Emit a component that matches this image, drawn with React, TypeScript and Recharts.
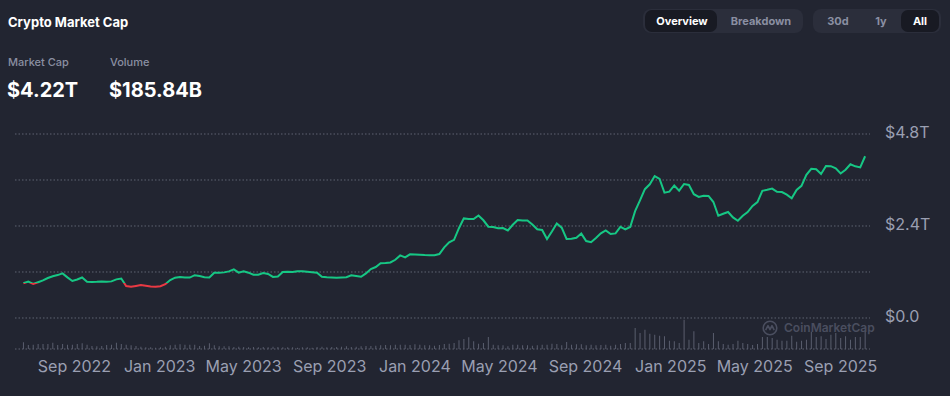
import { ComposedChart, Line, Bar, XAxis, YAxis, CartesianGrid } from "recharts";

// weekly samples, first one on 2022-06-20
const WEEK_START = Date.UTC(2022, 5, 20);
const DAY = 86400000;

// total crypto market cap, trillions USD
const marketCapT = [
  0.905, 0.952, 0.887, 0.934, 0.981, 1.043, 1.09, 1.119, 1.163, 1.059,
  0.965, 1.004, 1.057, 0.947, 0.942, 0.944, 0.955, 0.947, 0.955, 1.007,
  1.03, 0.832, 0.814, 0.837, 0.858, 0.84, 0.822, 0.817, 0.83, 0.882,
  0.991, 1.051, 1.07, 1.057, 1.054, 1.117, 1.093, 1.062, 1.057, 1.179,
  1.182, 1.19, 1.216, 1.27, 1.184, 1.216, 1.182, 1.13, 1.13, 1.171,
  1.148, 1.07, 1.08, 1.2, 1.208, 1.2, 1.221, 1.218, 1.208, 1.195,
  1.179, 1.077, 1.062, 1.057, 1.051, 1.057, 1.064, 1.114, 1.096, 1.075,
  1.163, 1.278, 1.33, 1.427, 1.435, 1.448, 1.518, 1.633, 1.583, 1.662,
  1.657, 1.651, 1.643, 1.638, 1.636, 1.667, 1.842, 1.975, 2.04, 2.343,
  2.598, 2.583, 2.58, 2.674, 2.549, 2.382, 2.374, 2.343, 2.345, 2.283,
  2.431, 2.554, 2.541, 2.544, 2.439, 2.314, 2.298, 2.061, 2.257, 2.463,
  2.358, 2.061, 2.066, 2.092, 2.202, 2.006, 1.977, 2.087, 2.207, 2.283,
  2.191, 2.207, 2.377, 2.311, 2.374, 2.789, 3.07, 3.36, 3.488, 3.702,
  3.626, 3.269, 3.297, 3.457, 3.323, 3.496, 3.47, 3.23, 3.159, 3.19,
  3.183, 3.026, 2.666, 2.718, 2.765, 2.624, 2.538, 2.666, 2.763, 2.922,
  3.024, 3.316, 3.344, 3.376, 3.292, 3.284, 3.219, 3.125, 3.342, 3.449,
  3.736, 3.892, 3.882, 3.757, 3.965, 3.96, 3.905, 3.77, 3.869, 4.01,
  3.957, 3.929, 4.22,
];

// 24h volume, billions USD
const volumeB = [
  93, 56, 60, 70, 70, 70, 88, 56, 70, 60,
  60, 70, 80, 60, 42, 38, 42, 56, 60, 88,
  70, 60, 52, 42, 32, 24, 24, 18, 24, 32,
  52, 60, 66, 60, 60, 60, 42, 46, 80, 52,
  38, 38, 38, 28, 32, 28, 24, 28, 24, 28,
  24, 32, 28, 24, 24, 24, 18, 24, 24, 18,
  28, 32, 24, 28, 28, 32, 38, 28, 32, 38,
  42, 42, 46, 52, 56, 52, 60, 60, 60, 56,
  66, 60, 52, 52, 46, 56, 70, 74, 84, 121,
  140, 163, 107, 74, 84, 167, 60, 52, 52, 38,
  60, 60, 52, 52, 46, 52, 60, 60, 74, 70,
  52, 98, 60, 66, 66, 52, 60, 52, 56, 60,
  46, 60, 70, 84, 84, 293, 223, 269, 213, 199,
  186, 177, 116, 107, 84, 409, 130, 247, 84, 107,
  70, 223, 107, 70, 60, 70, 116, 84, 70, 56,
  70, 167, 167, 153, 130, 116, 116, 186, 102, 116,
  130, 241, 167, 177, 140, 199, 223, 153, 177, 130,
  167, 167, 255,
];

const yTicks = [0, 1.2, 2.4, 3.6, 4.8];
const yTickLabels: Record<string, string> = { "0": "$0.0", "2.4": "$2.4T", "4.8": "$4.8T" };
const xTicks = [
  Date.UTC(2022, 8, 1), Date.UTC(2023, 0, 1), Date.UTC(2023, 4, 1), Date.UTC(2023, 8, 1),
  Date.UTC(2024, 0, 1), Date.UTC(2024, 4, 1), Date.UTC(2024, 8, 1), Date.UTC(2025, 0, 1),
  Date.UTC(2025, 4, 1), Date.UTC(2025, 8, 1),
];
const MONTHS = ["Jan", "Feb", "Mar", "Apr", "May", "Jun", "Jul", "Aug", "Sep", "Oct", "Nov", "Dec"];

const rows = marketCapT.map((cap, i) => ({
  t: WEEK_START + i * 7 * DAY,
  cap,
  vol: volumeB[i],
}));

const UP = "#16c784";
const DOWN = "#ea3943";
const BG = "#222531";
const MUTED = "#9a9fb2";
const FONT = "Inter, 'Noto Sans', sans-serif";

// line turns red where it sits below its first value
const capMax = Math.max(...marketCapT);
const capMin = Math.min(...marketCapT);
const baseOffset = (capMax - marketCapT[0]) / (capMax - capMin);

function Toggle({ left, width, items }: { left: number; width: number; items: { label: string; cx: number; active?: boolean; from?: number; to?: number }[] }) {
  return (
    <div style={{ position: "absolute", left, top: 9, width, height: 24, background: "#2b2e3b", borderRadius: 8 }}>
      {items.map((it) =>
        it.active ? (
          <div
            key={it.label}
            style={{
              position: "absolute",
              left: (it.from ?? 0) - left,
              top: 1,
              width: (it.to ?? 0) - (it.from ?? 0),
              height: 22,
              background: "#181a23",
              borderRadius: 7,
            }}
          />
        ) : null
      )}
      {items.map((it) => (
        <span
          key={it.label + "t"}
          style={{
            position: "absolute",
            left: it.cx - left - 40,
            width: 80,
            top: 0,
            lineHeight: "24px",
            textAlign: "center",
            fontSize: 11,
            fontWeight: 700,
            color: it.active ? "#ffffff" : "#8a8fa2",
          }}
        >
          {it.label}
        </span>
      ))}
    </div>
  );
}

export default function App() {
  return (
    <div style={{ position: "fixed", left: 0, top: 0, width: 950, height: 396, background: BG, fontFamily: FONT, overflow: "hidden" }}>
      <div style={{ position: "absolute", left: 8, top: 12, fontSize: 13, fontWeight: 700, color: "#fff", lineHeight: "20px" }}>
        Crypto Market Cap
      </div>
      <div style={{ position: "absolute", left: 8, top: 55, fontSize: 11, fontWeight: 500, color: "#8a8fa2", lineHeight: "14px" }}>
        Market Cap
      </div>
      <div style={{ position: "absolute", left: 110, top: 55, fontSize: 11, fontWeight: 500, color: "#8a8fa2", lineHeight: "14px" }}>
        Volume
      </div>
      <div style={{ position: "absolute", left: 7, top: 77, fontSize: 20, fontWeight: 700, color: "#fff", lineHeight: "26px" }}>
        $4.22T
      </div>
      <div style={{ position: "absolute", left: 109, top: 77, fontSize: 20, fontWeight: 700, color: "#fff", lineHeight: "26px" }}>
        $185.84B
      </div>

      <Toggle
        left={643}
        width={160}
        items={[
          { label: "Overview", cx: 682, active: true, from: 645, to: 717 },
          { label: "Breakdown", cx: 761 },
        ]}
      />
      <Toggle
        left={813}
        width={128}
        items={[
          { label: "30d", cx: 838 },
          { label: "1y", cx: 881 },
          { label: "All", cx: 920, active: true, from: 901, to: 939 },
        ]}
      />

      <div style={{ position: "absolute", left: 0, top: 0 }}>
        <ComposedChart width={950} height={396} data={rows} margin={{ top: 134, right: 0, bottom: 0, left: 15 }}>
          <defs>
            <linearGradient id="capStroke" x1="0" y1="0" x2="0" y2="1">
              <stop offset={0} stopColor={UP} />
              <stop offset={baseOffset} stopColor={UP} />
              <stop offset={baseOffset} stopColor={DOWN} />
              <stop offset={1} stopColor={DOWN} />
            </linearGradient>
          </defs>
          <CartesianGrid yAxisId="cap" vertical={false} stroke="#5f6372" strokeDasharray="1.5 2" />
          <XAxis
            dataKey="t"
            type="number"
            scale="linear"
            domain={[Date.UTC(2022, 5, 8), Date.UTC(2025, 9, 13)]}
            ticks={xTicks}
            interval={0}
            height={47}
            axisLine={false}
            tickLine={false}
            tickSize={0}
            tickMargin={12}
            tick={{ fill: MUTED, fontSize: 16, fontFamily: FONT }}
            tickFormatter={(v: number) => {
              const d = new Date(v);
              return `${MONTHS[d.getUTCMonth()]} ${d.getUTCFullYear()}`;
            }}
          />
          <YAxis
            yAxisId="cap"
            orientation="right"
            width={80}
            type="number"
            domain={[-0.809, 4.8]}
            allowDataOverflow
            ticks={yTicks}
            interval={0}
            axisLine={false}
            tickLine={false}
            tickSize={0}
            tickMargin={15}
            tick={{ fill: MUTED, fontSize: 16, fontFamily: FONT, dy: -2 }}
            tickFormatter={(v: number) => yTickLabels[String(v)] ?? ""}
          />
          <YAxis yAxisId="vol" hide domain={[0, 3000]} allowDataOverflow />
          <Bar yAxisId="vol" dataKey="vol" fill="#5a5e6e" barSize={1} isAnimationActive={false} />
          <Line
            yAxisId="cap"
            type="linear"
            dataKey="cap"
            stroke="url(#capStroke)"
            strokeWidth={2}
            dot={false}
            activeDot={false}
            isAnimationActive={false}
          />
        </ComposedChart>
      </div>

      <div style={{ position: "absolute", left: 762, top: 320, display: "flex", alignItems: "center", gap: 6, color: "#4a4e5f" }}>
        <svg width={16} height={16} viewBox="0 0 16 16">
          <circle cx={8} cy={8} r={6.8} fill="none" stroke="#4a4e5f" strokeWidth={1.6} />
          <polyline points="3.6,10.2 6,5.6 8,9.6 10,5.6 12.2,10.2" fill="none" stroke="#4a4e5f" strokeWidth={1.6} strokeLinejoin="round" />
        </svg>
        <span style={{ fontSize: 12, fontWeight: 600, lineHeight: "16px" }}>CoinMarketCap</span>
      </div>
    </div>
  );
}
